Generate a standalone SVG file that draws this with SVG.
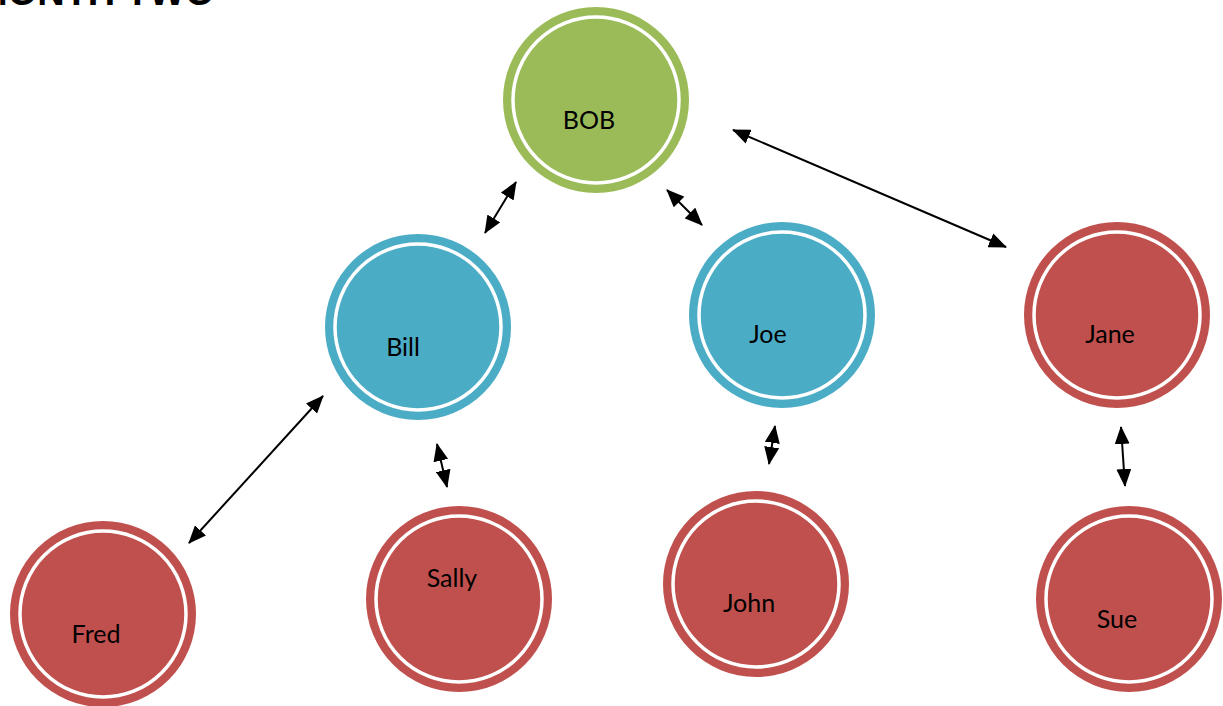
<svg xmlns="http://www.w3.org/2000/svg" width="1223" height="706" viewBox="0 0 1223 706">
<style>
.title{font-family:"Liberation Sans",Arial,sans-serif;font-weight:bold;font-size:38px;fill:#000}
.lbl{font-family:Lato,"Liberation Sans",sans-serif;font-size:25px;fill:#000;text-anchor:middle}
.ring{fill:none;stroke:#fff;stroke-width:3.5}
.green{fill:#9BBB59}
.blue{fill:#4BACC6}
.red{fill:#C0504D}
.conn line{stroke:#000;stroke-width:2;marker-start:url(#ah);marker-end:url(#ah)}
</style>
<defs>
<marker id="ah" viewBox="0 0 18 15" refX="17" refY="7.5" markerWidth="18" markerHeight="15" markerUnits="userSpaceOnUse" orient="auto-start-reverse">
<path d="M0,0 L18,7.5 L0,15 Z" fill="#000"/>
</marker>
</defs>
<rect width="1223" height="706" fill="#fff"/>
<text class="title" x="-24" y="5">MONTH TWO</text>
<g id="node-bob"><circle class="green" cx="596" cy="100" r="93"/><circle class="ring" cx="596" cy="100" r="83"/><text class="lbl" x="589" y="129">BOB</text></g>
<g id="node-bill"><circle class="blue" cx="418" cy="327" r="93"/><circle class="ring" cx="418" cy="327" r="83"/><text class="lbl" x="403" y="356">Bill</text></g>
<g id="node-joe"><circle class="blue" cx="782" cy="315" r="93"/><circle class="ring" cx="782" cy="315" r="83"/><text class="lbl" x="768" y="343">Joe</text></g>
<g id="node-jane"><circle class="red" cx="1117" cy="315" r="93"/><circle class="ring" cx="1117" cy="315" r="83"/><text class="lbl" x="1110" y="343">Jane</text></g>
<g id="node-fred"><circle class="red" cx="103" cy="614" r="93"/><circle class="ring" cx="103" cy="614" r="83"/><text class="lbl" x="96" y="643">Fred</text></g>
<g id="node-sally"><circle class="red" cx="459" cy="599" r="93"/><circle class="ring" cx="459" cy="599" r="83"/><text class="lbl" x="452" y="587">Sally</text></g>
<g id="node-john"><circle class="red" cx="756" cy="584" r="93"/><circle class="ring" cx="756" cy="584" r="83"/><text class="lbl" x="749" y="612">John</text></g>
<g id="node-sue"><circle class="red" cx="1129" cy="599" r="93"/><circle class="ring" cx="1129" cy="599" r="83"/><text class="lbl" x="1117" y="628">Sue</text></g>
<g id="connectors" class="conn">
<line x1="485" y1="233" x2="516" y2="182"/>
<line x1="667" y1="190" x2="702" y2="225"/>
<line x1="733" y1="130" x2="1006" y2="247"/>
<line x1="323" y1="396" x2="189" y2="543"/>
<line x1="437" y1="444" x2="447" y2="487"/>
<line x1="775" y1="426" x2="769" y2="464"/>
<line x1="1121" y1="427" x2="1125" y2="486"/>
</g>
</svg>
